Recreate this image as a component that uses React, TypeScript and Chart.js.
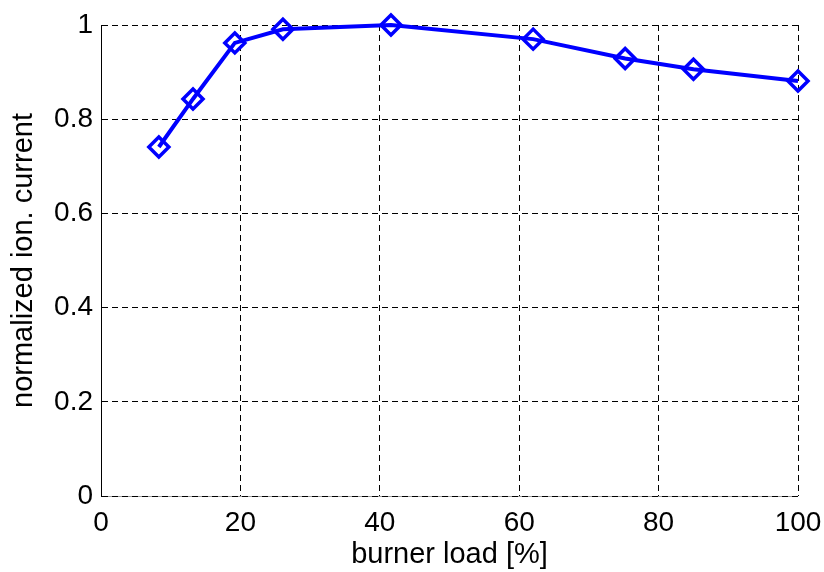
import React, { useEffect, useRef } from "react";
import { Chart, registerables } from "chart.js";

Chart.register(...registerables);

const burnerLoad = [8.3, 13.2, 19.2, 26.1, 41.6, 62.0, 75.2, 85.0, 100];
const ionCurrent = [0.741, 0.843, 0.962, 0.991, 1.0, 0.97, 0.929, 0.906, 0.881];
const xTicks = [0, 20, 40, 60, 80, 100];
const yTicks = [0, 0.2, 0.4, 0.6, 0.8, 1];

const FONT = "'Liberation Sans', Arial, sans-serif";

const bottomLine = {
  id: "bottomLine",
  beforeDraw(chart: any) {
    const { ctx, chartArea } = chart;
    ctx.save();
    ctx.strokeStyle = "#9a9a9a";
    ctx.lineWidth = 1;
    ctx.beginPath();
    const y = Math.round(chartArea.bottom) + 0.5;
    ctx.moveTo(chartArea.left, y);
    ctx.lineTo(chartArea.right, y);
    ctx.stroke();
    ctx.restore();
  },
};

export default function App() {
  const ref = useRef<HTMLCanvasElement>(null);
  useEffect(() => {
    if (!ref.current) return;
    const chart = new Chart(ref.current, {
      type: "line",
      data: {
        datasets: [
          {
            data: burnerLoad.map((x, i) => ({ x, y: ionCurrent[i] })),
            borderColor: "#0000ff",
            borderWidth: 4,
            pointStyle: "rectRot",
            pointRadius: 10,
            pointBorderWidth: 3.5,
            pointBorderColor: "#0000ff",
            pointBackgroundColor: "rgba(0,0,0,0)",
            tension: 0,
            clip: false as any,
          },
        ],
      },
      options: {
        animation: false,
        responsive: false,
        layout: { padding: { left: 0, right: 26, top: 25, bottom: 0 } },
        plugins: { legend: { display: false }, tooltip: { enabled: false } },
        scales: {
          x: {
            type: "linear",
            min: 0,
            max: 100,
            afterBuildTicks: (s: any) => {
              s.ticks = xTicks.map((v) => ({ value: v }));
            },
            afterFit: (s: any) => {
              s.height = 76;
              s.paddingLeft = 0;
              s.paddingRight = 0;
            },
            grid: { color: "#000", lineWidth: 1, drawTicks: false },
            border: { display: false, dash: [6, 4] },
            ticks: {
              color: "#000",
              font: { family: FONT, size: 28 },
              padding: 10,
              maxRotation: 0,
              autoSkip: false,
            },
            title: {
              display: true,
              text: "burner load [%]",
              color: "#000",
              font: { family: FONT, size: 29 },
              padding: { top: 0, bottom: 0 },
            },
          },
          y: {
            type: "linear",
            min: 0,
            max: 1,
            afterBuildTicks: (s: any) => {
              s.ticks = yTicks.map((v) => ({ value: v }));
            },
            afterFit: (s: any) => {
              s.width = 101;
              s.paddingTop = 0;
              s.paddingBottom = 0;
            },
            grid: { color: "#000", lineWidth: 1, drawTicks: false },
            border: { display: true, color: "#000", width: 1, dash: [6, 4] },
            ticks: {
              color: "#000",
              font: { family: FONT, size: 28 },
              padding: 8,
              autoSkip: false,
              callback: (v: any) => String(Math.round(Number(v) * 10) / 10),
            },
            title: {
              display: true,
              text: "normalized ion. current",
              color: "#000",
              font: { family: FONT, size: 29 },
              padding: { top: 7, bottom: 0 },
            },
          },
        },
      },
      plugins: [bottomLine],
    });
    return () => chart.destroy();
  }, []);
  return (
    <div style={{ position: "absolute", left: 0, top: 0, width: 824, height: 572, background: "#fff" }}>
      <canvas ref={ref} width={824} height={572} style={{ display: "block" }} />
    </div>
  );
}
